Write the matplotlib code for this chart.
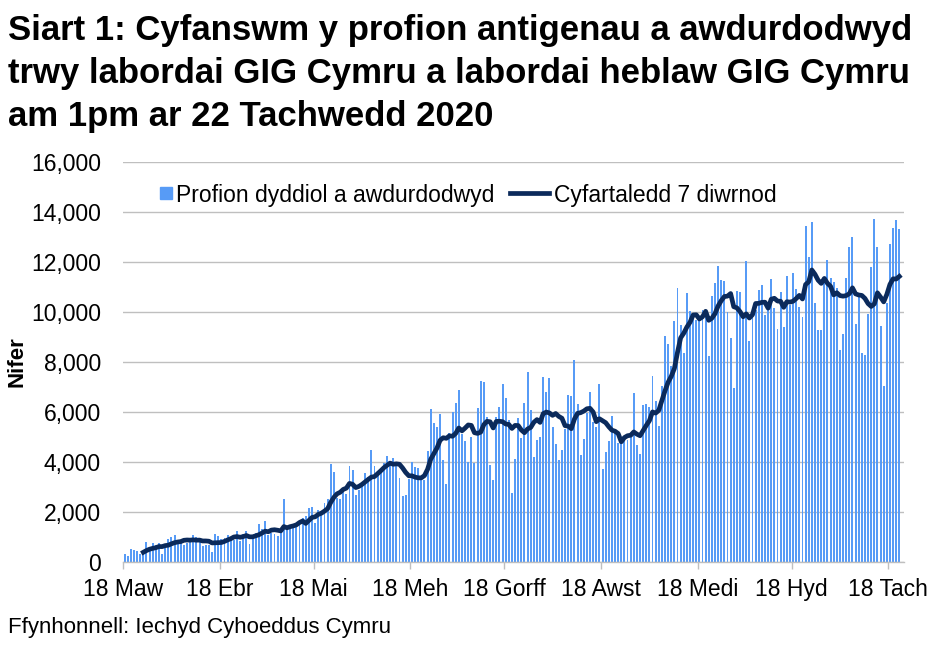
import matplotlib
matplotlib.use("Agg")
import matplotlib.pyplot as plt
from matplotlib.lines import Line2D
import pandas as pd

# Daily approved antigen tests, 18 March 2020 onwards
tests = [
    330, 250, 530, 490, 450, 350, 400, 810, 630, 770,
    680, 770, 330, 680, 930, 1010, 1090, 870, 890, 690,
    760, 890, 1090, 1000, 890, 650, 690, 690, 410, 1130,
    1050, 920, 970, 1090, 1030, 890, 1250, 850, 1130, 1250,
    730, 1030, 1190, 1530, 1330, 1650, 1090, 1190, 1130, 1050,
    1350, 2530, 1320, 1400, 1400, 1430, 1700, 1780, 1850, 2170,
    2210, 1590, 2090, 2050, 2370, 2530, 3930, 3610, 2570, 2530,
    2850, 2730, 3850, 3690, 2690, 2890, 3090, 3570, 3410, 4490,
    3850, 3490, 3690, 3950, 4250, 4030, 4170, 3970, 3370, 2650,
    2690, 3330, 4010, 3810, 3770, 3370, 3290, 4450, 6130, 5570,
    5390, 5930, 4090, 3130, 5150, 6010, 6380, 6890, 5130, 4860,
    4010, 5020, 3980, 6170, 7250, 7210, 5800, 3890, 3290, 5810,
    6210, 7130, 6570, 5670, 2770, 4140, 5770, 4970, 6370, 7610,
    6090, 4210, 4900, 5000, 7410, 6810, 7370, 5410, 4730, 4090,
    4490, 5330, 6690, 6650, 8090, 6330, 4290, 4930, 5980, 6810,
    5600, 5410, 7140, 3730, 4390, 4850, 5850, 5300, 4770, 4830,
    4910, 4900, 4990, 6770, 4690, 4330, 6290, 6330, 6210, 7450,
    6450, 5450, 7050, 9050, 8730, 7850, 9650, 10970, 9490, 8370,
    10770, 10050, 9900, 9700, 9800, 10100, 9900, 8250, 10650, 11170,
    11850, 11290, 11250, 10010, 8970, 6970, 10850, 10810, 9850, 12050,
    8850, 9900, 10100, 10890, 11090, 9890, 10400, 11330, 10170, 9330,
    10810, 9410, 11450, 10300, 11570, 10930, 10210, 9810, 13450, 12210,
    13610, 10370, 9290, 9290, 11200, 12090, 11370, 11210, 10970, 8490,
    9130, 11370, 12610, 13010, 9530, 10650, 8370, 8290, 9930, 11810,
    13730, 12610, 9450, 7050, 10370, 12730, 13370, 13690, 13330,
]

tick_days = [0, 31, 61, 92, 122, 153, 184, 214, 245]
tick_labels = ["18 Maw", "18 Ebr", "18 Mai", "18 Meh", "18 Gorff",
               "18 Awst", "18 Medi", "18 Hyd", "18 Tach"]

title_lines = ["Siart 1: Cyfanswm y profion antigenau a awdurdodwyd",
               "trwy labordai GIG Cymru a labordai heblaw GIG Cymru",
               "am 1pm ar 22 Tachwedd 2020"]

BAR_COL = "#579BF6"
LINE_COL = "#0B2A5B"

plt.rcParams["font.family"] = ["Liberation Sans", "DejaVu Sans"]

df = pd.DataFrame({"tests": tests})
df["avg7"] = df["tests"].rolling(7).mean()
days = df.index.values

fig = plt.figure(figsize=(9.42, 6.5), dpi=100)
ax = fig.add_axes([123 / 942, 1 - 562.3 / 650, (904 - 123) / 942, 400.3 / 650])

ax.bar(days, df["tests"], width=0.62, color=BAR_COL, zorder=2)
ax.plot(days, df["avg7"], color=LINE_COL, linewidth=3.4, zorder=3)

ax.set_ylim(0, 16000)
ax.set_xlim(-0.5, len(tests) + 0.5)
ax.set_yticks(range(0, 16001, 2000))
ax.set_yticklabels([f"{v:,}" for v in range(0, 16001, 2000)])
ax.yaxis.grid(True, color="#BFBFBF", linewidth=1.0, zorder=0)
ax.set_axisbelow(True)

ax.set_xticks([d - 0.5 for d in tick_days])
ax.set_xticklabels(tick_labels)

for side in ["top", "right", "left"]:
    ax.spines[side].set_visible(False)
ax.spines["bottom"].set_color("#BFBFBF")
ax.spines["bottom"].set_linewidth(1.0)

ax.tick_params(axis="y", length=0, pad=16, labelsize=16.5)
ax.tick_params(axis="x", length=5, width=1.0, color="#BFBFBF",
               direction="out", pad=6, labelsize=16.5)

# legend in two pieces so the bar key can be a small square like the original
sq = Line2D([], [], marker="s", markersize=8.2, linestyle="none", color=BAR_COL)
leg1 = fig.legend([sq], ["Profion dyddiol a awdurdodwyd"], loc="center left",
                  bbox_to_anchor=(160 / 942, 1 - 195 / 650), frameon=False,
                  fontsize=16.5, handlelength=0.52, handletextpad=0.2,
                  borderpad=0, borderaxespad=0)
ln = Line2D([], [], color=LINE_COL, linewidth=3.4)
fig.legend([ln], ["Cyfartaledd 7 diwrnod"], loc="center left",
           bbox_to_anchor=(510 / 942, 1 - 195 / 650), frameon=False,
           fontsize=16.5, handlelength=1.68, handletextpad=0.22,
           borderpad=0, borderaxespad=0)

for i, line in enumerate(title_lines):
    fig.text(8 / 942, 1 - (40 + 43 * i) / 650, line, fontsize=25,
             fontweight="bold", va="baseline", ha="left")
fig.text(17 / 942, 1 - 362 / 650, "Nifer", rotation=90, fontsize=16,
         fontweight="bold", va="center", ha="center")
fig.text(8 / 942, 1 - 628 / 650, "Ffynhonnell: Iechyd Cyhoeddus Cymru",
         fontsize=16, va="center", ha="left")

fig.savefig("out.png", dpi=100)
